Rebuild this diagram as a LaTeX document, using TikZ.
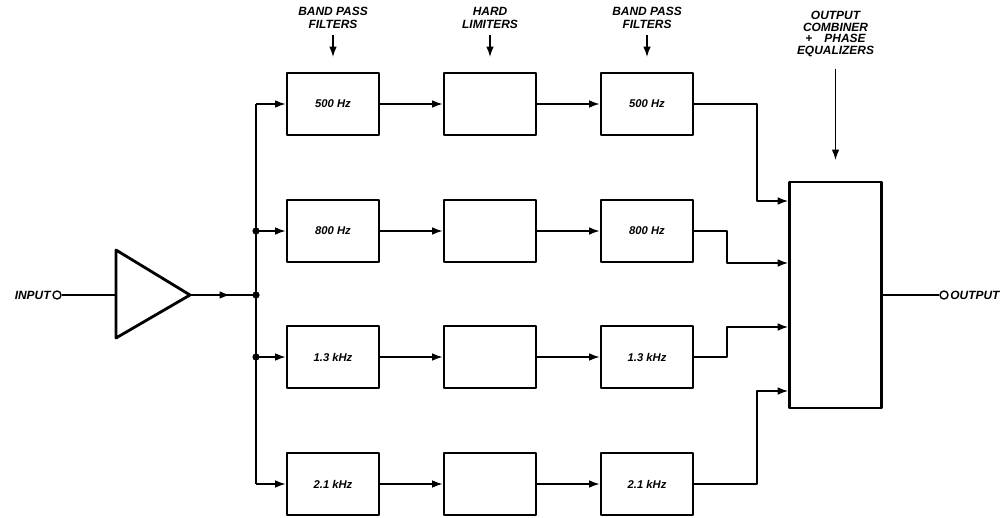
\documentclass[tikz,border=0pt]{standalone}
\usepackage{fontspec}
\setsansfont{Liberation Sans}
\usepackage{tikz}
\usetikzlibrary{arrows.meta,calc}

\begin{document}
\begin{tikzpicture}[>={Latex[length=2.6mm,width=1.9mm]},line join=round,
  blk/.style={draw,line width=2pt,minimum width=2.3cm,minimum height=1.55cm,
    font=\sffamily\bfseries\itshape\footnotesize},
  hdr/.style={align=center,inner sep=0pt,
    font=\sffamily\bfseries\itshape\fontsize{8.5}{9.2}\selectfont},
  wire/.style={line width=1pt},
  port/.style={circle,draw,line width=1pt,inner sep=0pt,minimum size=0.2cm}]
  \useasboundingbox (0,0) rectangle (25.125,12.925);
  % amplifier
  \coordinate (AmpL) at (2.900,5.550);
  \coordinate (AmpTip) at (4.750,5.550);
  \draw[line width=2pt] (2.900,6.675) -- (AmpTip) -- (2.900,4.475) -- cycle;
  \node[port] (In) at (1.425,5.550) {};
  \node[hdr,anchor=east,xshift=-1pt] (InLbl) at (In.west) {INPUT};
  \draw[wire] (In) -- (AmpL);
  \coordinate (Bus0) at (6.400,5.550);
  \coordinate (AmpMid) at (5.750,5.550);
  \draw[wire] (AmpTip) -- (Bus0);
  \draw[wire,->] (AmpTip) -- (AmpMid);
  % filter rows
  \foreach \r/\y/\f in {1/10.325/500 Hz,2/7.150/800 Hz,3/4.000/1.3 kHz,4/0.825/2.1 kHz} {
    \node[blk] (F\r) at (8.325,\y) {\f};
    \node[blk] (L\r) at (12.250,\y) {};
    \node[blk] (G\r) at (16.175,\y) {\f};
    \coordinate (B\r) at (6.400,\y);
    \draw[wire,->] (B\r) -- (F\r);
    \draw[wire,->] (F\r) -- (L\r);
    \draw[wire,->] (L\r) -- (G\r);
  }
  \draw[wire] (B1) -- (B4);
  \fill (B2) circle (0.09);
  \fill (B3) circle (0.09);
  \fill (Bus0) circle (0.09);
  % combiner
  \node[blk,minimum height=5.65cm] (Comb) at (20.888,5.550) {};
  \coordinate (C1) at ($(Comb.west)+(0,2.350)$);
  \coordinate (C2) at ($(Comb.west)+(0,0.800)$);
  \coordinate (C3) at ($(Comb.west)+(0,-0.800)$);
  \coordinate (C4) at ($(Comb.west)+(0,-2.400)$);
  \draw[wire,->] (G1) -| ($(C1)+(-0.775,0)$) -- (C1);
  \draw[wire,->] (G2) -| ($(C2)+(-1.525,0)$) -- (C2);
  \draw[wire,->] (G3) -| ($(C3)+(-1.525,0)$) -- (C3);
  \draw[wire,->] (G4) -| ($(C4)+(-0.775,0)$) -- (C4);
  \node[port] (Out) at (23.600,5.550) {};
  \node[hdr,anchor=west,xshift=1pt] (OutLbl) at (Out.east) {OUTPUT};
  \draw[wire] (Comb) -- (Out);
  % headings
  \node[hdr] (H1) at (8.325,12.470) {BAND PASS\\FILTERS};
  \node[hdr] (H2) at (12.250,12.470) {HARD\\LIMITERS};
  \node[hdr] (H3) at (16.175,12.470) {BAND PASS\\FILTERS};
  \node[hdr,font=\sffamily\bfseries\itshape\fontsize{8.5}{8.2}\selectfont] (H4) at (20.888,12.080)
    {OUTPUT\\COMBINER\\+\quad PHASE\\EQUALIZERS};
  \coordinate (H1a) at (8.325,11.500);
  \coordinate (H2a) at (12.250,11.500);
  \coordinate (H3a) at (16.175,11.500);
  \coordinate (H4a) at (20.888,8.925);
  \draw[wire,->] ($(H1.south)+(0,-0.150)$) -- (H1a);
  \draw[wire,->] ($(H2.south)+(0,-0.150)$) -- (H2a);
  \draw[wire,->] ($(H3.south)+(0,-0.150)$) -- (H3a);
  \draw[wire,->] ($(H4.south)+(0,-0.300)$) -- (H4a);
\end{tikzpicture}
\end{document}
